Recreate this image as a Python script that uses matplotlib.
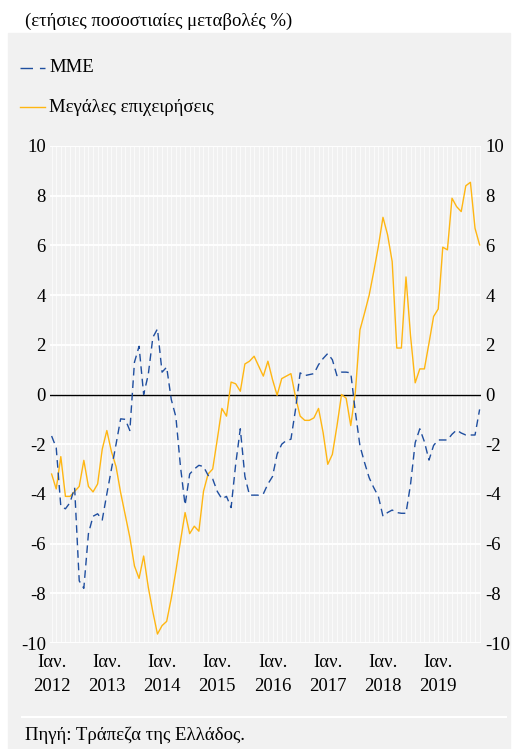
import numpy as np
import matplotlib.pyplot as plt
from matplotlib.patches import Rectangle
from matplotlib.lines import Line2D

plt.rcParams['font.family'] = ['Liberation Serif', 'DejaVu Serif']

# Monthly annual growth rates, Jan 2012 - Oct 2019
sme = [-1.67, -2.14, -4.5, -4.6, -4.35, -3.75, -7.5, -7.8, -5.6, -4.9, -4.8, -5.05,
       -4.0, -3.0, -2.0, -0.98, -1.0, -1.45, 1.3, 1.94, 0.0, 0.8, 2.3, 2.64,
       0.9, 1.1, -0.2, -0.9, -2.9, -4.45, -3.2, -3.0, -2.85, -2.9, -3.25, -3.4,
       -3.9, -4.2, -4.1, -4.55, -2.8, -1.38, -3.3, -4.05, -4.05, -4.05, -4.0, -3.6,
       -3.3, -2.4, -2.0, -1.85, -1.8, -0.6, 0.87, 0.76, 0.8, 0.84, 1.2, 1.45,
       1.65, 1.4, 0.76, 0.9, 0.9, 0.87, -0.7, -2.07, -2.74, -3.35, -3.75, -4.1,
       -4.9, -4.75, -4.65, -4.75, -4.78, -4.78, -3.6, -1.94, -1.38, -1.9, -2.64, -2.05,
       -1.83, -1.83, -1.83, -1.6, -1.43, -1.55, -1.63, -1.63, -1.63, -0.6]
large = [-3.2, -3.8, -2.5, -4.1, -4.1, -3.9, -3.7, -2.65, -3.7, -3.92, -3.6, -2.2,
         -1.45, -2.3, -2.9, -3.95, -4.85, -5.75, -6.9, -7.4, -6.5, -7.75, -8.75, -9.64,
         -9.3, -9.13, -8.2, -7.1, -5.9, -4.75, -5.6, -5.3, -5.5, -3.9, -3.2, -3.0,
         -1.8, -0.56, -0.87, 0.5, 0.43, 0.13, 1.23, 1.34, 1.54, 1.14, 0.74, 1.34,
         0.6, -0.03, 0.64, 0.74, 0.84, -0.1, -0.87, -1.04, -1.04, -0.94, -0.56, -1.54,
         -2.81, -2.41, -1.27, 0.0, -0.15, -1.25, 0.1, 2.6, 3.28, 4.0, 4.95, 5.96,
         7.13, 6.43, 5.35, 1.87, 1.87, 4.73, 2.34, 0.47, 1.03, 1.03, 2.07, 3.14,
         3.44, 5.93, 5.82, 7.9, 7.56, 7.36, 8.4, 8.54, 6.69, 6.02]
years = [2012, 2013, 2014, 2015, 2016, 2017, 2018, 2019]
yticks = [-10, -8, -6, -4, -2, 0, 2, 4, 6, 8, 10]

blue = '#1f4e9f'
amber = '#ffb612'
panel = '#f1f1f1'
W, H = 516, 749
fs = 13.5

fig = plt.figure(figsize=(W / 100, H / 100), dpi=100)
fig.patch.set_facecolor('white')
fig.patches.append(Rectangle((8 / W, 0), 502 / W, (H - 33) / H,
                             transform=fig.transFigure, color=panel, zorder=-5))
# separator above the source note
fig.add_artist(Line2D([22 / W, 506 / W], [1 - 717 / H] * 2, color='white', lw=1.5))

ax = fig.add_axes([50 / W, 1 - 643 / H, 431 / W, 497 / H])
ax.set_zorder(2)
ax.set_facecolor(panel)
x = np.arange(len(sme))

for m in x:
    ax.axvline(m, color='white', lw=0.6, alpha=0.8, zorder=1)
for v in yticks:
    ax.axhline(v, color='white', lw=1.4, zorder=1)
ax.axhline(0, color='black', lw=1.0, zorder=2)

ax.plot(x, large, color=amber, lw=1.0, zorder=3)
ax.plot(x, sme, color=blue, lw=1.0, dashes=(5.5, 3.5), zorder=4)

ax.set_xlim(-0.35, 93.3)
ax.set_ylim(-10, 10)
ax.set_yticks(yticks)
ax.set_yticklabels([str(v) for v in yticks])
ax.set_xticks([12 * k for k in range(len(years))])
ax.set_xticklabels(['Ιαν.\n' + str(y) for y in years], linespacing=1.5)
ax.tick_params(axis='y', length=0, labelsize=fs, labelleft=True, labelright=True, pad=3)
ax.tick_params(axis='x', length=0, labelsize=fs, pad=8)
for s in ax.spines.values():
    s.set_visible(False)

fig.text(25 / W, 1 - 21 / H, '(ετήσιες ποσοστιαίες μεταβολές %)', fontsize=fs, va='center')

# legend drawn by hand, one entry per row
fig.add_artist(Line2D([20 / W, 45 / W], [1 - 68 / H] * 2, color=blue, lw=1.0, dashes=(9, 5)))
fig.text(49 / W, 1 - 68 / H, 'ΜΜΕ', fontsize=fs, va='center')
fig.add_artist(Line2D([20 / W, 45 / W], [1 - 107 / H] * 2, color=amber, lw=1.0))
fig.text(49 / W, 1 - 107 / H, 'Μεγάλες επιχειρήσεις', fontsize=fs, va='center')

fig.text(25 / W, 1 - 735 / H, 'Πηγή: Τράπεζα της Ελλάδος.', fontsize=fs, va='center')

fig.savefig('out.png', dpi=100)
